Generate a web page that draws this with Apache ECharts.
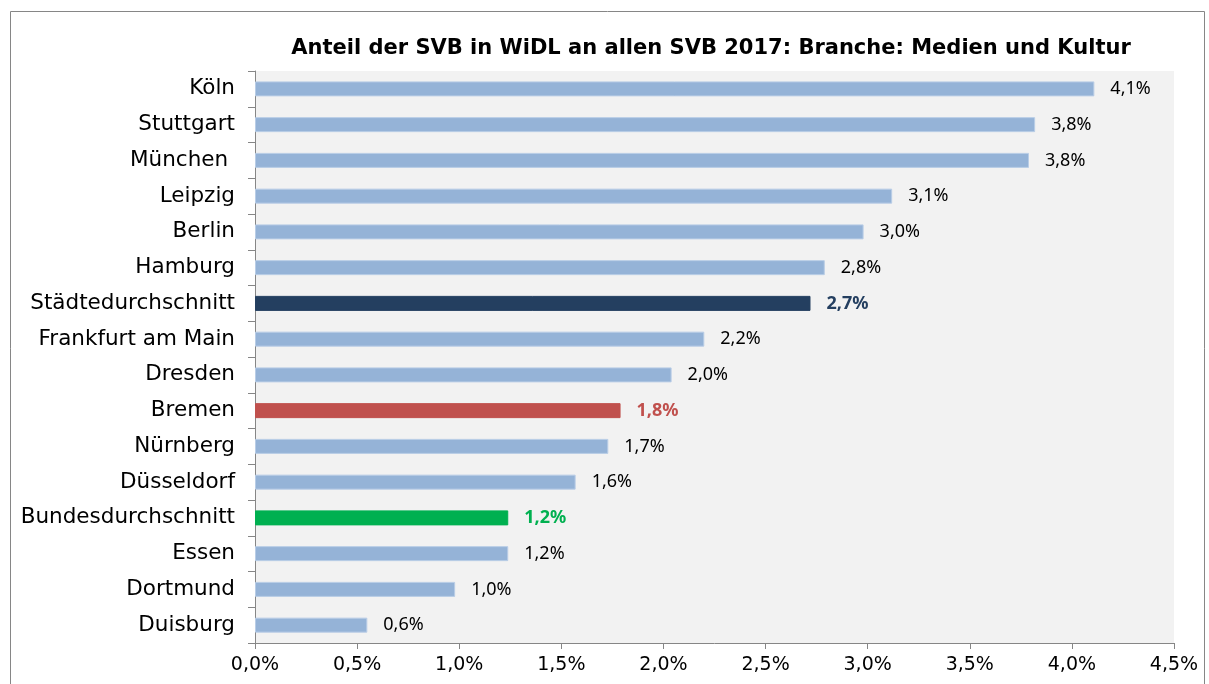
<!DOCTYPE html>
<html><head><meta charset="utf-8">
<script src="https://cdn.jsdelivr.net/npm/echarts@6/dist/echarts.min.js"></script>
<style>html,body{margin:0;padding:0;background:#fff}#c{width:1209px;height:684px}</style>
</head><body><div id="c"></div>
<script>
const title = 'Anteil der SVB in WiDL an allen SVB 2017: Branche: Medien und Kultur';
const categories = ['Köln','Stuttgart','München ','Leipzig','Berlin','Hamburg','Städtedurchschnitt','Frankfurt am Main','Dresden','Bremen','Nürnberg','Düsseldorf','Bundesdurchschnitt','Essen','Dortmund','Duisburg'];
const values = [4.11,3.82,3.79,3.12,2.98,2.79,2.72,2.20,2.04,1.79,1.73,1.57,1.24,1.24,0.98,0.55];
const xTicks = [0,0.5,1.0,1.5,2.0,2.5,3.0,3.5,4.0,4.5];

const highlight = {
  'Städtedurchschnitt': {bar:'#243f60', label:'#243f60'},
  'Bremen': {bar:'#c0504d', label:'#c0504d'},
  'Bundesdurchschnitt': {bar:'#00b050', label:'#00b050'}
};
const fmt = v => v.toFixed(1).replace('.', ',') + '%';

const data = values.map((v,i) => {
  const h = highlight[categories[i]];
  return {
    value: v,
    itemStyle: h ? {color: h.bar, borderColor: h.bar} : {color:'#95b3d7', borderColor:'#b9cde6'},
    label: h ? {color: h.label, fontWeight:'bold'} : {}
  };
});

const chart = echarts.init(document.getElementById('c'));
chart.setOption({
  animation:false,
  backgroundColor:'#fff',
  title:{text:title,left:706,top:33,textAlign:'center',
    textStyle:{fontFamily:'DejaVu Sans',fontSize:21,fontWeight:'bold',color:'#000'}},
  graphic:[{type:'rect',shape:{x:10.5,y:11.5,width:1194,height:700},
    style:{fill:'none',stroke:'#868686',lineWidth:1},silent:true}],
  grid:{left:255,right:35,top:71,bottom:41,show:true,backgroundColor:'#f2f2f2',borderWidth:0},
  xAxis:{type:'value',min:0,max:4.5,interval:0.5,
    axisLine:{show:true,lineStyle:{color:'#868686',width:1}},
    axisTick:{show:true,length:6,lineStyle:{color:'#868686'}},
    splitLine:{show:false},
    axisLabel:{margin:13,fontFamily:'DejaVu Sans',fontSize:19,color:'#000',
      formatter:v => fmt(v)}},
  yAxis:{type:'category',data:categories,inverse:true,
    axisLine:{show:true,lineStyle:{color:'#868686',width:1}},
    axisTick:{show:true,length:7,lineStyle:{color:'#868686'}},
    axisLabel:{margin:20,fontFamily:'DejaVu Sans',fontSize:21.5,color:'#000'}},
  series:[{type:'bar',data:data,barWidth:15,
    itemStyle:{borderWidth:1},
    label:{show:true,position:'right',distance:16,fontFamily:'Noto Sans',fontSize:18,color:'#000',
      formatter:p => fmt(p.value)}}]
});
</script></body></html>
